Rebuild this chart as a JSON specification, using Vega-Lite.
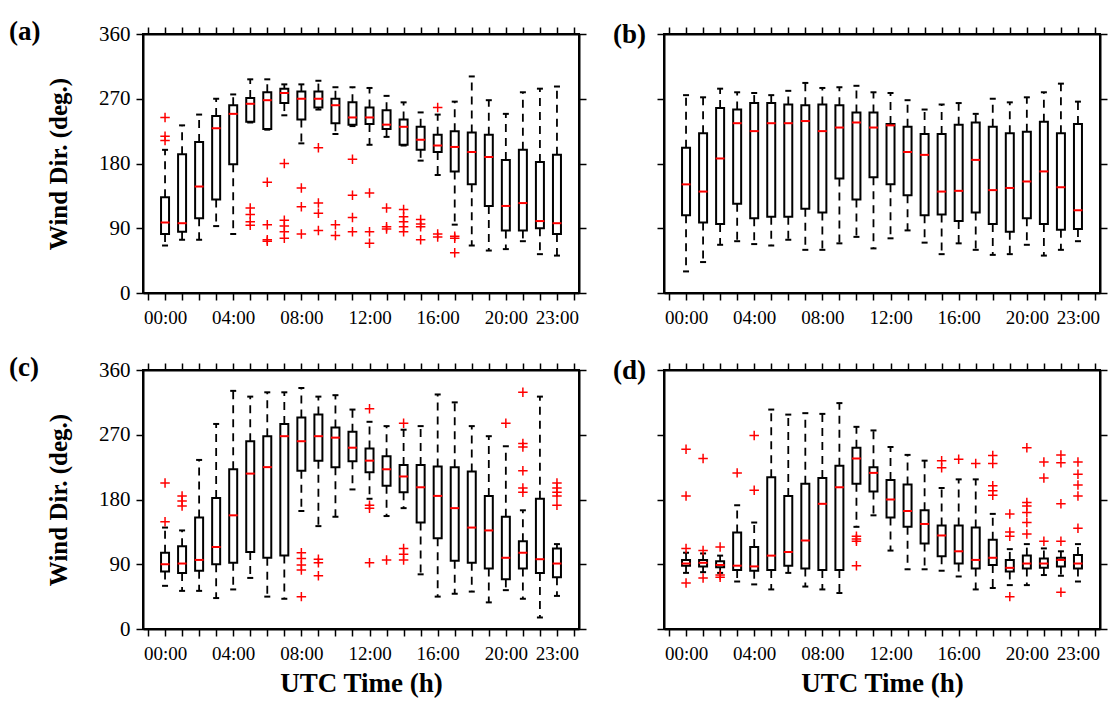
{
"$schema": "https://vega.github.io/schema/vega-lite/v6.json",
"background": "white",
"padding": {"left": 8, "top": 17, "right": 4, "bottom": 2},
"columns": 2,
"align": "each",
"spacing": {"row": 25, "column": 24},
"datasets": {
"box": [
{"p":"a","h":0,"lo":66,"q1":82,"med":98,"q3":133,"hi":199},
{"p":"a","h":1,"lo":74,"q1":85,"med":97,"q3":193,"hi":233},
{"p":"a","h":2,"lo":74,"q1":104,"med":148,"q3":210,"hi":248},
{"p":"a","h":3,"lo":93,"q1":130,"med":229,"q3":246,"hi":270},
{"p":"a","h":4,"lo":82,"q1":179,"med":249,"q3":261,"hi":276},
{"p":"a","h":5,"lo":237,"q1":238,"med":263,"q3":271,"hi":297},
{"p":"a","h":6,"lo":227,"q1":228,"med":268,"q3":279,"hi":297},
{"p":"a","h":7,"lo":247,"q1":264,"med":278,"q3":284,"hi":290},
{"p":"a","h":8,"lo":208,"q1":241,"med":270,"q3":280,"hi":290},
{"p":"a","h":9,"lo":255,"q1":258,"med":270,"q3":280,"hi":295},
{"p":"a","h":10,"lo":221,"q1":236,"med":261,"q3":270,"hi":286},
{"p":"a","h":11,"lo":232,"q1":234,"med":244,"q3":265,"hi":286},
{"p":"a","h":12,"lo":206,"q1":235,"med":244,"q3":258,"hi":285},
{"p":"a","h":13,"lo":217,"q1":228,"med":234,"q3":254,"hi":274},
{"p":"a","h":14,"lo":205,"q1":206,"med":231,"q3":241,"hi":265},
{"p":"a","h":15,"lo":184,"q1":199,"med":213,"q3":231,"hi":251},
{"p":"a","h":16,"lo":164,"q1":196,"med":205,"q3":220,"hi":248},
{"p":"a","h":17,"lo":95,"q1":169,"med":203,"q3":225,"hi":266},
{"p":"a","h":18,"lo":66,"q1":151,"med":196,"q3":223,"hi":301},
{"p":"a","h":19,"lo":59,"q1":121,"med":189,"q3":220,"hi":268},
{"p":"a","h":20,"lo":61,"q1":87,"med":121,"q3":185,"hi":249},
{"p":"a","h":21,"lo":72,"q1":87,"med":125,"q3":199,"hi":279},
{"p":"a","h":22,"lo":54,"q1":90,"med":100,"q3":182,"hi":284},
{"p":"a","h":23,"lo":52,"q1":82,"med":97,"q3":192,"hi":287},
{"p":"b","h":0,"lo":30,"q1":108,"med":151,"q3":202,"hi":275},
{"p":"b","h":1,"lo":43,"q1":98,"med":141,"q3":222,"hi":272},
{"p":"b","h":2,"lo":67,"q1":96,"med":187,"q3":257,"hi":284},
{"p":"b","h":3,"lo":72,"q1":124,"med":236,"q3":255,"hi":279},
{"p":"b","h":4,"lo":68,"q1":104,"med":225,"q3":264,"hi":278},
{"p":"b","h":5,"lo":66,"q1":106,"med":236,"q3":264,"hi":275},
{"p":"b","h":6,"lo":74,"q1":106,"med":236,"q3":262,"hi":281},
{"p":"b","h":7,"lo":60,"q1":117,"med":239,"q3":261,"hi":292},
{"p":"b","h":8,"lo":60,"q1":112,"med":225,"q3":262,"hi":285},
{"p":"b","h":9,"lo":69,"q1":159,"med":230,"q3":261,"hi":286},
{"p":"b","h":10,"lo":78,"q1":130,"med":237,"q3":251,"hi":288},
{"p":"b","h":11,"lo":62,"q1":161,"med":230,"q3":251,"hi":279},
{"p":"b","h":12,"lo":76,"q1":151,"med":233,"q3":235,"hi":278},
{"p":"b","h":13,"lo":87,"q1":136,"med":196,"q3":231,"hi":268},
{"p":"b","h":14,"lo":70,"q1":108,"med":192,"q3":221,"hi":255},
{"p":"b","h":15,"lo":54,"q1":109,"med":141,"q3":221,"hi":262},
{"p":"b","h":16,"lo":69,"q1":100,"med":142,"q3":234,"hi":264},
{"p":"b","h":17,"lo":60,"q1":112,"med":185,"q3":237,"hi":249},
{"p":"b","h":18,"lo":53,"q1":96,"med":143,"q3":231,"hi":270},
{"p":"b","h":19,"lo":54,"q1":85,"med":146,"q3":222,"hi":265},
{"p":"b","h":20,"lo":67,"q1":104,"med":155,"q3":224,"hi":272},
{"p":"b","h":21,"lo":52,"q1":96,"med":169,"q3":238,"hi":279},
{"p":"b","h":22,"lo":60,"q1":88,"med":147,"q3":222,"hi":291},
{"p":"b","h":23,"lo":72,"q1":89,"med":115,"q3":235,"hi":266},
{"p":"c","h":0,"lo":60,"q1":80,"med":90,"q3":106,"hi":141},
{"p":"c","h":1,"lo":53,"q1":78,"med":91,"q3":115,"hi":137},
{"p":"c","h":2,"lo":53,"q1":81,"med":96,"q3":155,"hi":235},
{"p":"c","h":3,"lo":43,"q1":90,"med":114,"q3":182,"hi":285},
{"p":"c","h":4,"lo":55,"q1":92,"med":158,"q3":222,"hi":331},
{"p":"c","h":5,"lo":71,"q1":107,"med":216,"q3":261,"hi":323},
{"p":"c","h":6,"lo":45,"q1":99,"med":225,"q3":268,"hi":329},
{"p":"c","h":7,"lo":42,"q1":102,"med":268,"q3":285,"hi":329},
{"p":"c","h":8,"lo":164,"q1":220,"med":261,"q3":294,"hi":335},
{"p":"c","h":9,"lo":143,"q1":234,"med":268,"q3":298,"hi":323},
{"p":"c","h":10,"lo":156,"q1":225,"med":266,"q3":280,"hi":325},
{"p":"c","h":11,"lo":194,"q1":233,"med":252,"q3":274,"hi":305},
{"p":"c","h":12,"lo":181,"q1":218,"med":234,"q3":251,"hi":288},
{"p":"c","h":13,"lo":157,"q1":199,"med":222,"q3":240,"hi":282},
{"p":"c","h":14,"lo":168,"q1":190,"med":212,"q3":228,"hi":277},
{"p":"c","h":15,"lo":76,"q1":148,"med":197,"q3":228,"hi":282},
{"p":"c","h":16,"lo":45,"q1":126,"med":185,"q3":226,"hi":326},
{"p":"c","h":17,"lo":49,"q1":95,"med":168,"q3":225,"hi":315},
{"p":"c","h":18,"lo":52,"q1":92,"med":141,"q3":219,"hi":282},
{"p":"c","h":19,"lo":37,"q1":84,"med":137,"q3":185,"hi":268},
{"p":"c","h":20,"lo":54,"q1":69,"med":99,"q3":156,"hi":254},
{"p":"c","h":21,"lo":42,"q1":84,"med":106,"q3":122,"hi":165},
{"p":"c","h":22,"lo":16,"q1":78,"med":97,"q3":181,"hi":323},
{"p":"c","h":23,"lo":46,"q1":72,"med":91,"q3":112,"hi":118},
{"p":"d","h":0,"lo":78,"q1":88,"med":91,"q3":96,"hi":106},
{"p":"d","h":1,"lo":79,"q1":87,"med":92,"q3":96,"hi":105},
{"p":"d","h":2,"lo":78,"q1":86,"med":89,"q3":94,"hi":102},
{"p":"d","h":3,"lo":66,"q1":82,"med":88,"q3":134,"hi":172},
{"p":"d","h":4,"lo":62,"q1":81,"med":87,"q3":114,"hi":148},
{"p":"d","h":5,"lo":55,"q1":82,"med":102,"q3":211,"hi":305},
{"p":"d","h":6,"lo":78,"q1":88,"med":107,"q3":185,"hi":298},
{"p":"d","h":7,"lo":59,"q1":84,"med":123,"q3":202,"hi":300},
{"p":"d","h":8,"lo":55,"q1":82,"med":174,"q3":210,"hi":299},
{"p":"d","h":9,"lo":50,"q1":82,"med":197,"q3":227,"hi":314},
{"p":"d","h":10,"lo":142,"q1":202,"med":237,"q3":252,"hi":281},
{"p":"d","h":11,"lo":158,"q1":191,"med":217,"q3":225,"hi":276},
{"p":"d","h":12,"lo":109,"q1":155,"med":180,"q3":207,"hi":253},
{"p":"d","h":13,"lo":83,"q1":142,"med":164,"q3":201,"hi":242},
{"p":"d","h":14,"lo":83,"q1":119,"med":146,"q3":165,"hi":234},
{"p":"d","h":15,"lo":81,"q1":101,"med":130,"q3":144,"hi":196},
{"p":"d","h":16,"lo":73,"q1":91,"med":108,"q3":144,"hi":208},
{"p":"d","h":17,"lo":55,"q1":84,"med":96,"q3":141,"hi":208},
{"p":"d","h":18,"lo":57,"q1":89,"med":99,"q3":124,"hi":160},
{"p":"d","h":19,"lo":61,"q1":80,"med":85,"q3":96,"hi":111},
{"p":"d","h":20,"lo":61,"q1":84,"med":91,"q3":102,"hi":118},
{"p":"d","h":21,"lo":75,"q1":85,"med":91,"q3":98,"hi":112},
{"p":"d","h":22,"lo":74,"q1":87,"med":96,"q3":99,"hi":108},
{"p":"d","h":23,"lo":66,"q1":84,"med":91,"q3":103,"hi":118}
],
"out": [
{"p":"a","h":0,"v":244},{"p":"a","h":0,"v":218},{"p":"a","h":0,"v":212},
{"p":"a","h":5,"v":118},{"p":"a","h":5,"v":109},{"p":"a","h":5,"v":99},{"p":"a","h":5,"v":94},
{"p":"a","h":6,"v":154},{"p":"a","h":6,"v":95},{"p":"a","h":6,"v":74},{"p":"a","h":6,"v":72},
{"p":"a","h":7,"v":180},{"p":"a","h":7,"v":101},{"p":"a","h":7,"v":93},{"p":"a","h":7,"v":85},{"p":"a","h":7,"v":76},
{"p":"a","h":8,"v":146},{"p":"a","h":8,"v":120},{"p":"a","h":8,"v":82},
{"p":"a","h":9,"v":202},{"p":"a","h":9,"v":125},{"p":"a","h":9,"v":111},{"p":"a","h":9,"v":87},
{"p":"a","h":10,"v":95},{"p":"a","h":10,"v":80},
{"p":"a","h":11,"v":186},{"p":"a","h":11,"v":136},{"p":"a","h":11,"v":105},{"p":"a","h":11,"v":85},
{"p":"a","h":12,"v":139},{"p":"a","h":12,"v":85},{"p":"a","h":12,"v":69},
{"p":"a","h":13,"v":118},{"p":"a","h":13,"v":92},{"p":"a","h":13,"v":89},
{"p":"a","h":14,"v":116},{"p":"a","h":14,"v":106},{"p":"a","h":14,"v":99},{"p":"a","h":14,"v":92},{"p":"a","h":14,"v":85},
{"p":"a","h":15,"v":102},{"p":"a","h":15,"v":96},{"p":"a","h":15,"v":92},{"p":"a","h":15,"v":74},
{"p":"a","h":16,"v":258},{"p":"a","h":16,"v":82},{"p":"a","h":16,"v":78},
{"p":"a","h":17,"v":79},{"p":"a","h":17,"v":76},{"p":"a","h":17,"v":56},
{"p":"c","h":0,"v":203},{"p":"c","h":0,"v":149},
{"p":"c","h":1,"v":185},{"p":"c","h":1,"v":178},{"p":"c","h":1,"v":171},
{"p":"c","h":8,"v":106},{"p":"c","h":8,"v":98},{"p":"c","h":8,"v":89},{"p":"c","h":8,"v":82},{"p":"c","h":8,"v":45},
{"p":"c","h":9,"v":97},{"p":"c","h":9,"v":92},{"p":"c","h":9,"v":74},
{"p":"c","h":12,"v":306},{"p":"c","h":12,"v":172},{"p":"c","h":12,"v":168},{"p":"c","h":12,"v":92},
{"p":"c","h":13,"v":96},
{"p":"c","h":14,"v":286},{"p":"c","h":14,"v":112},{"p":"c","h":14,"v":104},{"p":"c","h":14,"v":96},
{"p":"c","h":20,"v":286},
{"p":"c","h":21,"v":329},{"p":"c","h":21,"v":258},{"p":"c","h":21,"v":253},{"p":"c","h":21,"v":220},{"p":"c","h":21,"v":196},{"p":"c","h":21,"v":190},
{"p":"c","h":23,"v":203},{"p":"c","h":23,"v":196},{"p":"c","h":23,"v":190},{"p":"c","h":23,"v":185},{"p":"c","h":23,"v":172},
{"p":"d","h":0,"v":250},{"p":"d","h":0,"v":185},{"p":"d","h":0,"v":112},{"p":"d","h":0,"v":64},
{"p":"d","h":1,"v":237},{"p":"d","h":1,"v":109},{"p":"d","h":1,"v":71},
{"p":"d","h":2,"v":114},{"p":"d","h":2,"v":75},{"p":"d","h":2,"v":72},
{"p":"d","h":3,"v":217},
{"p":"d","h":4,"v":269},{"p":"d","h":4,"v":193},
{"p":"d","h":10,"v":129},{"p":"d","h":10,"v":125},{"p":"d","h":10,"v":122},{"p":"d","h":10,"v":88},
{"p":"d","h":15,"v":234},{"p":"d","h":15,"v":224},
{"p":"d","h":16,"v":236},
{"p":"d","h":17,"v":230},
{"p":"d","h":18,"v":241},{"p":"d","h":18,"v":230},{"p":"d","h":18,"v":199},{"p":"d","h":18,"v":192},{"p":"d","h":18,"v":186},
{"p":"d","h":19,"v":160},{"p":"d","h":19,"v":135},{"p":"d","h":19,"v":129},{"p":"d","h":19,"v":45},
{"p":"d","h":20,"v":252},{"p":"d","h":20,"v":176},{"p":"d","h":20,"v":171},{"p":"d","h":20,"v":162},{"p":"d","h":20,"v":148},{"p":"d","h":20,"v":132},
{"p":"d","h":21,"v":232},{"p":"d","h":21,"v":210},{"p":"d","h":21,"v":122},
{"p":"d","h":22,"v":242},{"p":"d","h":22,"v":231},{"p":"d","h":22,"v":174},{"p":"d","h":22,"v":122},{"p":"d","h":22,"v":51},
{"p":"d","h":23,"v":232},{"p":"d","h":23,"v":215},{"p":"d","h":23,"v":200},{"p":"d","h":23,"v":185},{"p":"d","h":23,"v":140}
]
},
"concat": [
{
"width": 436, "height": 259,
"title": {"text": "(a)", "dx": -134, "dy": 27},
"data": {"name": "box"},
"transform": [{"filter": "datum.p == 'a'"}],
"layer": [
{"mark": {"type": "rule", "strokeDash": [8, 6], "strokeWidth": 1.8, "color": "black"},
 "encoding": {
  "x": {"field": "h", "type": "quantitative", "scale": {"domain": [-1, 24], "nice": false, "zero": false},
        "axis": {"orient": "bottom", "values": [-1,0,1,2,3,4,5,6,7,8,9,10,11,12,13,14,15,16,17,18,19,20,21,22,23,24], "labelExpr": "indexof([0,4,8,12,16,20,23], datum.value) >= 0 ? (datum.value < 10 ? '0' + datum.value : '' + datum.value) + ':00' : ''", "title": null}},
  "y": {"field": "q1", "type": "quantitative", "scale": {"domain": [0, 360], "nice": false, "zero": false},
        "axis": {"orient": "left", "values": [0, 90, 180, 270, 360], "title": "Wind Dir. (deg.)"}},
  "y2": {"field": "lo"}}},
{"mark": {"type": "rule", "strokeDash": [8, 6], "strokeWidth": 1.8, "color": "black"},
 "encoding": {
  "x": {"field": "h", "type": "quantitative", "scale": {"domain": [-1, 24], "nice": false, "zero": false},
        "axis": {"orient": "top", "values": [-1,0,1,2,3,4,5,6,7,8,9,10,11,12,13,14,15,16,17,18,19,20,21,22,23,24], "labels": false, "title": null}},
  "y": {"field": "q3", "type": "quantitative", "scale": {"domain": [0, 360], "nice": false, "zero": false},
        "axis": {"orient": "right", "values": [0, 90, 180, 270, 360], "labels": false, "title": null}},
  "y2": {"field": "hi"}}},
{"mark": {"type": "tick", "orient": "horizontal", "color": "black", "size": 6, "thickness": 2, "opacity": 1},
 "encoding": {
  "x": {"field": "h", "type": "quantitative", "scale": {"domain": [-1, 24], "nice": false, "zero": false}, "axis": null},
  "y": {"field": "lo", "type": "quantitative", "scale": {"domain": [0, 360], "nice": false, "zero": false}, "axis": null}}},
{"mark": {"type": "tick", "orient": "horizontal", "color": "black", "size": 6, "thickness": 2, "opacity": 1},
 "encoding": {
  "x": {"field": "h", "type": "quantitative", "scale": {"domain": [-1, 24], "nice": false, "zero": false}, "axis": null},
  "y": {"field": "hi", "type": "quantitative", "scale": {"domain": [0, 360], "nice": false, "zero": false}, "axis": null}}},
{"mark": {"type": "bar", "size": 8, "fill": "white", "stroke": "black", "strokeWidth": 2},
 "encoding": {
  "x": {"field": "h", "type": "quantitative", "scale": {"domain": [-1, 24], "nice": false, "zero": false}, "axis": null},
  "y": {"field": "q3", "type": "quantitative", "scale": {"domain": [0, 360], "nice": false, "zero": false}, "axis": null},
  "y2": {"field": "q1"}}},
{"mark": {"type": "tick", "orient": "horizontal", "color": "#ff0000", "size": 9, "thickness": 2, "opacity": 1},
 "encoding": {
  "x": {"field": "h", "type": "quantitative", "scale": {"domain": [-1, 24], "nice": false, "zero": false}, "axis": null},
  "y": {"field": "med", "type": "quantitative", "scale": {"domain": [0, 360], "nice": false, "zero": false}, "axis": null}}},
{"data": {"name": "out"}, "transform": [{"filter": "datum.p == 'a'"}],
 "mark": {"type": "point", "shape": "M-1,0H1M0,-1V1", "filled": false, "color": "#ff0000", "strokeWidth": 1.5, "size": 90, "opacity": 1},
 "encoding": {
  "x": {"field": "h", "type": "quantitative", "scale": {"domain": [-1, 24], "nice": false, "zero": false}, "axis": null},
  "y": {"field": "v", "type": "quantitative", "scale": {"domain": [0, 360], "nice": false, "zero": false}, "axis": null}}}
],
"resolve": {"axis": {"x": "independent", "y": "independent"}}
},
{
"width": 436, "height": 259,
"title": {"text": "(b)", "dx": -51, "dy": 27},
"data": {"name": "box"},
"transform": [{"filter": "datum.p == 'b'"}],
"layer": [
{"mark": {"type": "rule", "strokeDash": [8, 6], "strokeWidth": 1.8, "color": "black"},
 "encoding": {
  "x": {"field": "h", "type": "quantitative", "scale": {"domain": [-1, 24], "nice": false, "zero": false},
        "axis": {"orient": "bottom", "values": [-1,0,1,2,3,4,5,6,7,8,9,10,11,12,13,14,15,16,17,18,19,20,21,22,23,24], "labelExpr": "indexof([0,4,8,12,16,20,23], datum.value) >= 0 ? (datum.value < 10 ? '0' + datum.value : '' + datum.value) + ':00' : ''", "title": null}},
  "y": {"field": "q1", "type": "quantitative", "scale": {"domain": [0, 360], "nice": false, "zero": false},
        "axis": {"orient": "left", "values": [0, 90, 180, 270, 360], "labels": false, "title": null}},
  "y2": {"field": "lo"}}},
{"mark": {"type": "rule", "strokeDash": [8, 6], "strokeWidth": 1.8, "color": "black"},
 "encoding": {
  "x": {"field": "h", "type": "quantitative", "scale": {"domain": [-1, 24], "nice": false, "zero": false},
        "axis": {"orient": "top", "values": [-1,0,1,2,3,4,5,6,7,8,9,10,11,12,13,14,15,16,17,18,19,20,21,22,23,24], "labels": false, "title": null}},
  "y": {"field": "q3", "type": "quantitative", "scale": {"domain": [0, 360], "nice": false, "zero": false},
        "axis": {"orient": "right", "values": [0, 90, 180, 270, 360], "labels": false, "title": null}},
  "y2": {"field": "hi"}}},
{"mark": {"type": "tick", "orient": "horizontal", "color": "black", "size": 6, "thickness": 2, "opacity": 1},
 "encoding": {
  "x": {"field": "h", "type": "quantitative", "scale": {"domain": [-1, 24], "nice": false, "zero": false}, "axis": null},
  "y": {"field": "lo", "type": "quantitative", "scale": {"domain": [0, 360], "nice": false, "zero": false}, "axis": null}}},
{"mark": {"type": "tick", "orient": "horizontal", "color": "black", "size": 6, "thickness": 2, "opacity": 1},
 "encoding": {
  "x": {"field": "h", "type": "quantitative", "scale": {"domain": [-1, 24], "nice": false, "zero": false}, "axis": null},
  "y": {"field": "hi", "type": "quantitative", "scale": {"domain": [0, 360], "nice": false, "zero": false}, "axis": null}}},
{"mark": {"type": "bar", "size": 8, "fill": "white", "stroke": "black", "strokeWidth": 2},
 "encoding": {
  "x": {"field": "h", "type": "quantitative", "scale": {"domain": [-1, 24], "nice": false, "zero": false}, "axis": null},
  "y": {"field": "q3", "type": "quantitative", "scale": {"domain": [0, 360], "nice": false, "zero": false}, "axis": null},
  "y2": {"field": "q1"}}},
{"mark": {"type": "tick", "orient": "horizontal", "color": "#ff0000", "size": 9, "thickness": 2, "opacity": 1},
 "encoding": {
  "x": {"field": "h", "type": "quantitative", "scale": {"domain": [-1, 24], "nice": false, "zero": false}, "axis": null},
  "y": {"field": "med", "type": "quantitative", "scale": {"domain": [0, 360], "nice": false, "zero": false}, "axis": null}}}
],
"resolve": {"axis": {"x": "independent", "y": "independent"}}
},
{
"width": 436, "height": 259,
"title": {"text": "(c)", "dx": -134, "dy": 27},
"data": {"name": "box"},
"transform": [{"filter": "datum.p == 'c'"}],
"layer": [
{"mark": {"type": "rule", "strokeDash": [8, 6], "strokeWidth": 1.8, "color": "black"},
 "encoding": {
  "x": {"field": "h", "type": "quantitative", "scale": {"domain": [-1, 24], "nice": false, "zero": false},
        "axis": {"orient": "bottom", "values": [-1,0,1,2,3,4,5,6,7,8,9,10,11,12,13,14,15,16,17,18,19,20,21,22,23,24], "labelExpr": "indexof([0,4,8,12,16,20,23], datum.value) >= 0 ? (datum.value < 10 ? '0' + datum.value : '' + datum.value) + ':00' : ''", "title": "UTC Time (h)"}},
  "y": {"field": "q1", "type": "quantitative", "scale": {"domain": [0, 360], "nice": false, "zero": false},
        "axis": {"orient": "left", "values": [0, 90, 180, 270, 360], "title": "Wind Dir. (deg.)"}},
  "y2": {"field": "lo"}}},
{"mark": {"type": "rule", "strokeDash": [8, 6], "strokeWidth": 1.8, "color": "black"},
 "encoding": {
  "x": {"field": "h", "type": "quantitative", "scale": {"domain": [-1, 24], "nice": false, "zero": false},
        "axis": {"orient": "top", "values": [-1,0,1,2,3,4,5,6,7,8,9,10,11,12,13,14,15,16,17,18,19,20,21,22,23,24], "labels": false, "title": null}},
  "y": {"field": "q3", "type": "quantitative", "scale": {"domain": [0, 360], "nice": false, "zero": false},
        "axis": {"orient": "right", "values": [0, 90, 180, 270, 360], "labels": false, "title": null}},
  "y2": {"field": "hi"}}},
{"mark": {"type": "tick", "orient": "horizontal", "color": "black", "size": 6, "thickness": 2, "opacity": 1},
 "encoding": {
  "x": {"field": "h", "type": "quantitative", "scale": {"domain": [-1, 24], "nice": false, "zero": false}, "axis": null},
  "y": {"field": "lo", "type": "quantitative", "scale": {"domain": [0, 360], "nice": false, "zero": false}, "axis": null}}},
{"mark": {"type": "tick", "orient": "horizontal", "color": "black", "size": 6, "thickness": 2, "opacity": 1},
 "encoding": {
  "x": {"field": "h", "type": "quantitative", "scale": {"domain": [-1, 24], "nice": false, "zero": false}, "axis": null},
  "y": {"field": "hi", "type": "quantitative", "scale": {"domain": [0, 360], "nice": false, "zero": false}, "axis": null}}},
{"mark": {"type": "bar", "size": 8, "fill": "white", "stroke": "black", "strokeWidth": 2},
 "encoding": {
  "x": {"field": "h", "type": "quantitative", "scale": {"domain": [-1, 24], "nice": false, "zero": false}, "axis": null},
  "y": {"field": "q3", "type": "quantitative", "scale": {"domain": [0, 360], "nice": false, "zero": false}, "axis": null},
  "y2": {"field": "q1"}}},
{"mark": {"type": "tick", "orient": "horizontal", "color": "#ff0000", "size": 9, "thickness": 2, "opacity": 1},
 "encoding": {
  "x": {"field": "h", "type": "quantitative", "scale": {"domain": [-1, 24], "nice": false, "zero": false}, "axis": null},
  "y": {"field": "med", "type": "quantitative", "scale": {"domain": [0, 360], "nice": false, "zero": false}, "axis": null}}},
{"data": {"name": "out"}, "transform": [{"filter": "datum.p == 'c'"}],
 "mark": {"type": "point", "shape": "M-1,0H1M0,-1V1", "filled": false, "color": "#ff0000", "strokeWidth": 1.5, "size": 90, "opacity": 1},
 "encoding": {
  "x": {"field": "h", "type": "quantitative", "scale": {"domain": [-1, 24], "nice": false, "zero": false}, "axis": null},
  "y": {"field": "v", "type": "quantitative", "scale": {"domain": [0, 360], "nice": false, "zero": false}, "axis": null}}}
],
"resolve": {"axis": {"x": "independent", "y": "independent"}}
},
{
"width": 436, "height": 259,
"title": {"text": "(d)", "dx": -51, "dy": 27},
"data": {"name": "box"},
"transform": [{"filter": "datum.p == 'd'"}],
"layer": [
{"mark": {"type": "rule", "strokeDash": [8, 6], "strokeWidth": 1.8, "color": "black"},
 "encoding": {
  "x": {"field": "h", "type": "quantitative", "scale": {"domain": [-1, 24], "nice": false, "zero": false},
        "axis": {"orient": "bottom", "values": [-1,0,1,2,3,4,5,6,7,8,9,10,11,12,13,14,15,16,17,18,19,20,21,22,23,24], "labelExpr": "indexof([0,4,8,12,16,20,23], datum.value) >= 0 ? (datum.value < 10 ? '0' + datum.value : '' + datum.value) + ':00' : ''", "title": "UTC Time (h)"}},
  "y": {"field": "q1", "type": "quantitative", "scale": {"domain": [0, 360], "nice": false, "zero": false},
        "axis": {"orient": "left", "values": [0, 90, 180, 270, 360], "labels": false, "title": null}},
  "y2": {"field": "lo"}}},
{"mark": {"type": "rule", "strokeDash": [8, 6], "strokeWidth": 1.8, "color": "black"},
 "encoding": {
  "x": {"field": "h", "type": "quantitative", "scale": {"domain": [-1, 24], "nice": false, "zero": false},
        "axis": {"orient": "top", "values": [-1,0,1,2,3,4,5,6,7,8,9,10,11,12,13,14,15,16,17,18,19,20,21,22,23,24], "labels": false, "title": null}},
  "y": {"field": "q3", "type": "quantitative", "scale": {"domain": [0, 360], "nice": false, "zero": false},
        "axis": {"orient": "right", "values": [0, 90, 180, 270, 360], "labels": false, "title": null}},
  "y2": {"field": "hi"}}},
{"mark": {"type": "tick", "orient": "horizontal", "color": "black", "size": 6, "thickness": 2, "opacity": 1},
 "encoding": {
  "x": {"field": "h", "type": "quantitative", "scale": {"domain": [-1, 24], "nice": false, "zero": false}, "axis": null},
  "y": {"field": "lo", "type": "quantitative", "scale": {"domain": [0, 360], "nice": false, "zero": false}, "axis": null}}},
{"mark": {"type": "tick", "orient": "horizontal", "color": "black", "size": 6, "thickness": 2, "opacity": 1},
 "encoding": {
  "x": {"field": "h", "type": "quantitative", "scale": {"domain": [-1, 24], "nice": false, "zero": false}, "axis": null},
  "y": {"field": "hi", "type": "quantitative", "scale": {"domain": [0, 360], "nice": false, "zero": false}, "axis": null}}},
{"mark": {"type": "bar", "size": 8, "fill": "white", "stroke": "black", "strokeWidth": 2},
 "encoding": {
  "x": {"field": "h", "type": "quantitative", "scale": {"domain": [-1, 24], "nice": false, "zero": false}, "axis": null},
  "y": {"field": "q3", "type": "quantitative", "scale": {"domain": [0, 360], "nice": false, "zero": false}, "axis": null},
  "y2": {"field": "q1"}}},
{"mark": {"type": "tick", "orient": "horizontal", "color": "#ff0000", "size": 9, "thickness": 2, "opacity": 1},
 "encoding": {
  "x": {"field": "h", "type": "quantitative", "scale": {"domain": [-1, 24], "nice": false, "zero": false}, "axis": null},
  "y": {"field": "med", "type": "quantitative", "scale": {"domain": [0, 360], "nice": false, "zero": false}, "axis": null}}},
{"data": {"name": "out"}, "transform": [{"filter": "datum.p == 'd'"}],
 "mark": {"type": "point", "shape": "M-1,0H1M0,-1V1", "filled": false, "color": "#ff0000", "strokeWidth": 1.5, "size": 90, "opacity": 1},
 "encoding": {
  "x": {"field": "h", "type": "quantitative", "scale": {"domain": [-1, 24], "nice": false, "zero": false}, "axis": null},
  "y": {"field": "v", "type": "quantitative", "scale": {"domain": [0, 360], "nice": false, "zero": false}, "axis": null}}}
],
"resolve": {"axis": {"x": "independent", "y": "independent"}}
}
],
"config": {
"view": {"stroke": "black", "strokeWidth": 2},
"axis": {"grid": false, "domainColor": "black", "domainWidth": 2, "tickColor": "black", "tickWidth": 1.5, "tickSize": 7,
         "labelFont": "Liberation Serif", "labelColor": "black", "titleFont": "Liberation Serif", "titleColor": "black", "titleFontWeight": "bold",
         "labelOverlap": false, "labelFlush": false, "labelBound": false},
"axisX": {"labelFontSize": 19, "labelPadding": 8, "titleFontSize": 27, "titlePadding": 7},
"axisY": {"labelFontSize": 21, "labelPadding": 6, "titleFontSize": 25, "titlePadding": 27},
"title": {"font": "Liberation Serif", "fontSize": 27, "fontWeight": "bold", "color": "black", "anchor": "start", "frame": "group", "baseline": "middle", "offset": 0}
}
}
